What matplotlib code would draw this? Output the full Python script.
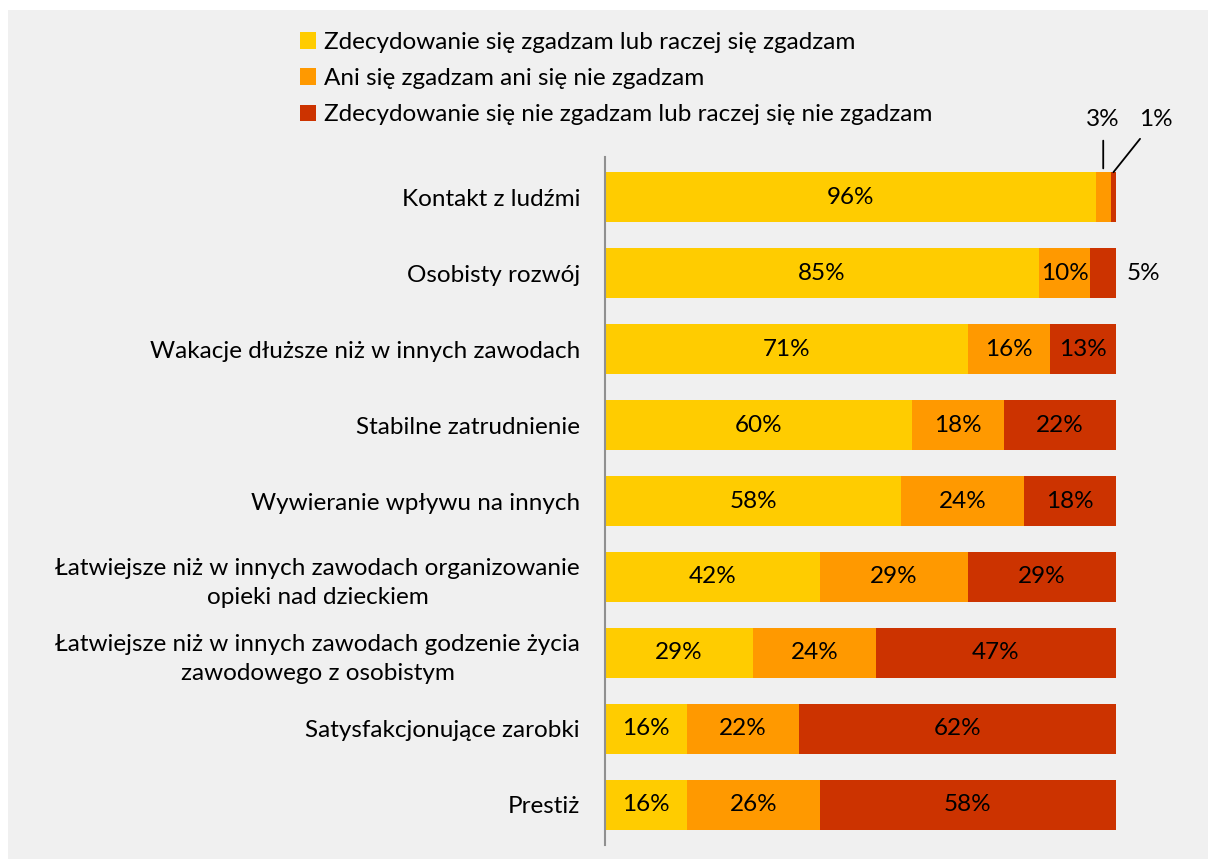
import matplotlib.pyplot as plt
from matplotlib.patches import Rectangle

plt.rcParams['font.family'] = ['Lato', 'DejaVu Sans']

categories = [
    "Kontakt z ludźmi",
    "Osobisty rozwój",
    "Wakacje dłuższe niż w innych zawodach",
    "Stabilne zatrudnienie",
    "Wywieranie wpływu na innych",
    "Łatwiejsze niż w innych zawodach organizowanie\nopieki nad dzieckiem",
    "Łatwiejsze niż w innych zawodach godzenie życia\nzawodowego z osobistym",
    "Satysfakcjonujące zarobki",
    "Prestiż",
]
agree = [96, 85, 71, 60, 58, 42, 29, 16, 16]
neutral = [3, 10, 16, 18, 24, 29, 24, 22, 26]
disagree = [1, 5, 13, 22, 18, 29, 47, 62, 58]

series_names = [
    "Zdecydowanie się zgadzam lub raczej się zgadzam",
    "Ani się zgadzam ani się nie zgadzam",
    "Zdecydowanie się nie zgadzam lub raczej się nie zgadzam",
]
colors = ["#FFCC00", "#FF9900", "#CC3300"]
BG = "#F0F0F0"
FS = 17.5

fig = plt.figure(figsize=(12.08, 8.59), dpi=100, facecolor="white")
fig.patches.append(Rectangle((8 / 1208, 0), 1, 1 - 10 / 859,
                             transform=fig.transFigure, facecolor=BG,
                             edgecolor="none", zorder=-10))
ax = fig.add_axes([605 / 1208, 14 / 859, (1116 - 605) / 1208, (843 - 157 + 2) / 859])
ax.set_facecolor("none")

y = list(range(len(categories)))
left = [0] * len(categories)
bars = []
for vals, col, name in zip([agree, neutral, disagree], colors, series_names):
    b = ax.barh(y, vals, left=left, height=0.66, color=col, label=name)
    bars.append(b)
    left = [l + v for l, v in zip(left, vals)]

# Etykiety wartości wewnątrz słupków
for vals, b in zip([agree, neutral, disagree], bars):
    for i, (v, rect) in enumerate(zip(vals, b)):
        if v < 6:
            continue
        ax.text(rect.get_x() + rect.get_width() / 2, rect.get_y() + rect.get_height() / 2,
                f"{v}%", ha="center", va="center", fontsize=FS, color="black")

# Małe wartości poza słupkami
r = bars[1][0]
ax.annotate(f"{neutral[0]}%", xy=(r.get_x() + r.get_width() / 2, r.get_y() - 0.05),
            xytext=(r.get_x() + r.get_width() / 2, -1.03), ha="center", va="center",
            fontsize=FS, annotation_clip=False,
            arrowprops=dict(arrowstyle="-", color="black", lw=1.3, shrinkA=6, shrinkB=0))
r = bars[2][0]
ax.annotate(f"{disagree[0]}%", xy=(r.get_x() + r.get_width() / 2, r.get_y()),
            xytext=(r.get_x() + 8.8, -1.03), ha="center", va="center",
            fontsize=FS, annotation_clip=False,
            arrowprops=dict(arrowstyle="-", color="black", lw=1.3, shrinkA=6, shrinkB=0))
r = bars[2][1]
ax.text(r.get_x() + r.get_width() + 5.3, 1, f"{disagree[1]}%", ha="center", va="center",
        fontsize=FS)

ax.set_xlim(0, 100)
ax.set_ylim(8.53, -0.53)
ax.set_yticks(y)
ax.set_yticklabels(categories, fontsize=FS, multialignment="center", linespacing=1.45)
ax.tick_params(axis="y", length=0, pad=18)
ax.set_xticks([])
for s in ["top", "right", "bottom"]:
    ax.spines[s].set_visible(False)
ax.spines["left"].set_color("#909090")
ax.spines["left"].set_linewidth(1.5)

fig.legend(handles=bars, labels=series_names, loc="upper left",
           bbox_to_anchor=(283 / 1208, 1 - 15 / 859), frameon=False,
           fontsize=FS, handlelength=0.65, handleheight=0.65, handletextpad=0.35,
           labelspacing=0.62, borderpad=0.2)

fig.savefig("out.png", dpi=100, facecolor=fig.get_facecolor())
